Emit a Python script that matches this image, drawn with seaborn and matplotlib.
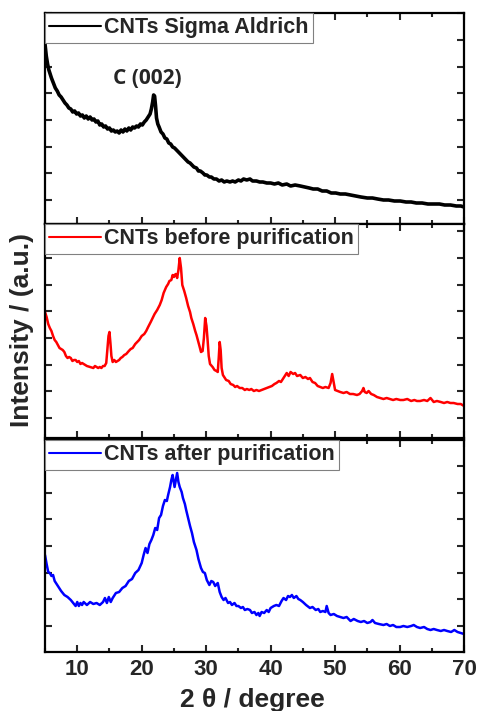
import numpy as np
import pandas as pd
import matplotlib
matplotlib.use("Agg")
import matplotlib.pyplot as plt
from matplotlib.ticker import MultipleLocator
import seaborn as sns

# === DATA (arbitrary intensity units) ===
sigma_theta = [5.0, 5.2, 5.4, 5.6, 5.8, 6.0, 6.3, 6.6, 6.9, 7.2, 7.5, 7.8, 8.1, 8.4, 8.7, 9.0,
               9.3, 9.6, 9.9, 10.2, 10.5, 10.8, 11.1, 11.4, 11.7, 12.0, 12.3, 12.6, 12.9, 13.2,
               13.5, 13.8, 14.1, 14.4, 14.7, 15.0, 15.3, 15.6, 15.9, 16.2, 16.5, 16.8, 17.1,
               17.4, 17.7, 18.0, 18.3, 18.6, 18.9, 19.2, 19.5, 19.8, 20.1, 20.4, 20.7, 21.0,
               21.3, 21.5, 21.7, 21.85, 22.0, 22.15, 22.3, 22.5, 22.7, 23.0, 23.3, 23.6, 23.9,
               24.2, 24.5, 24.8, 25.1, 25.4, 25.7, 26.0, 26.3, 26.6, 26.9, 27.2, 27.5, 27.8,
               28.1, 28.5, 28.8, 29.1, 29.5, 29.8, 30.1, 30.5, 30.8, 31.2, 31.6, 32.0, 32.4,
               32.8, 33.2, 33.7, 34.1, 34.5, 35.0, 35.4, 35.8, 36.3, 36.8, 37.2, 37.8, 38.3,
               38.8, 39.4, 40.0, 40.6, 41.2, 41.8, 42.5, 43.1, 43.8, 44.6, 45.3, 46.0, 46.6,
               47.3, 48.0, 48.7, 49.4, 50.1, 50.8, 51.6, 52.4, 53.2, 54.0, 55.0, 55.8, 56.6,
               57.5, 58.3, 59.2, 60.1, 61.0, 61.8, 62.6, 63.5, 64.4, 65.3, 66.2, 67.0, 67.9,
               68.8, 69.5, 70.0]
sigma_int = [180, 168, 160, 154, 150, 146, 141, 136, 133, 129, 127, 124, 121, 119, 116, 115,
             112, 113, 110, 111, 108, 109, 106, 108, 105, 107, 104, 105, 102, 103,
             99, 100, 97, 98, 95, 96, 93, 94, 92, 93, 91, 94, 92,
             95, 93, 96, 94, 97, 96, 98, 97, 100, 99, 102, 104, 107,
             110, 115, 122, 129, 128, 118, 106, 100, 97, 92, 90, 86, 85,
             81, 80, 77, 76, 74, 72, 70, 68, 66, 64, 62, 61, 59,
             57, 56, 53, 53, 51, 49, 49, 47, 47, 45, 45, 43, 44,
             42, 43, 42, 43, 42, 44, 43, 45, 44, 45, 43, 43, 42,
             42, 41, 41, 40, 41, 39, 40, 38, 39, 38, 37, 36, 35,
             35, 33, 33, 31, 31, 30, 30, 29, 28, 27, 26, 26, 25,
             24, 24, 23, 23, 22, 22, 21, 21, 20, 20, 20, 19, 19,
             18, 18, 17]

before_theta = [5.0, 5.25, 5.5, 5.75, 6.0, 6.25, 6.5, 6.75, 7.0, 7.25, 7.5, 7.75, 8.0, 8.25,
                8.5, 8.75, 9.0, 9.25, 9.5, 9.75, 10.0, 10.25, 10.5, 10.75, 11.0, 11.5, 12.0,
                12.5, 12.75, 13.0, 13.25, 13.5, 13.75, 14.0, 14.25, 14.5, 14.7, 14.85, 15.0,
                15.15, 15.3, 15.5, 15.75, 16.0, 16.25, 16.5, 16.75, 17.0, 17.3, 17.6, 18.0,
                18.3, 18.6, 19.0, 19.3, 19.6, 20.0, 20.4, 20.7, 21.0, 21.4, 21.7, 22.0, 22.4,
                22.8, 23.1, 23.4, 23.8, 24.1, 24.3, 24.6, 24.8, 25.0, 25.1, 25.3, 25.5, 25.7,
                25.9, 26.1, 26.3, 26.6, 26.9, 27.2, 27.5, 27.7, 28.0, 28.3, 28.5, 28.8, 29.0,
                29.2, 29.45, 29.65, 29.85, 30.05, 30.2, 30.4, 30.6, 31.0, 31.3, 31.6, 31.8,
                31.95, 32.1, 32.25, 32.4, 32.6, 32.9, 33.1, 33.5, 33.8, 34.2, 34.5, 34.8, 35.2,
                35.6, 36.0, 36.3, 36.7, 37.0, 37.4, 37.8, 38.2, 38.6, 39.0, 39.4, 39.8, 40.2,
                40.6, 40.9, 41.3, 41.6, 42.0, 42.3, 42.5, 42.8, 43.1, 43.5, 43.8, 44.1, 44.6,
                45.0, 45.4, 45.8, 46.1, 46.5, 46.9, 47.3, 47.7, 48.1, 48.5, 49.0, 49.3, 49.55,
                49.8, 50.0, 50.4, 50.8, 51.3, 51.8, 52.3, 52.8, 53.4, 53.8, 54.2, 54.4, 54.6,
                54.9, 55.2, 55.6, 56.0, 56.5, 57.0, 57.5, 58.0, 58.5, 59.0, 59.5, 60.1, 60.6,
                61.2, 61.8, 62.3, 62.7, 63.2, 63.8, 64.3, 64.8, 65.3, 65.8, 66.4, 66.9, 67.4,
                67.9, 68.4, 69.0, 69.5, 70.0]
before_int = [126, 121, 114, 110, 107, 102, 98, 96, 93, 90, 89, 88, 86, 82,
              80, 81, 80, 77, 78, 78, 76, 77, 74, 75, 74, 72, 71,
              70, 72, 71, 70, 71, 70, 72, 72, 75, 90, 102, 106,
              95, 82, 76, 78, 76, 77, 78, 80, 81, 83, 84, 87,
              89, 90, 94, 96, 98, 102, 104, 107, 111, 116, 120, 124, 128,
              133, 138, 145, 151, 154, 157, 158, 163, 161, 163, 164, 160, 168,
              180, 170, 153, 147, 140, 132, 126, 120, 114, 107, 103, 96, 91,
              86, 87, 100, 120, 112, 100, 82, 74, 71, 68, 67, 66,
              80, 96, 88, 70, 63, 60, 58, 57, 54, 53, 51, 52, 50,
              50, 48, 49, 48, 49, 47, 48, 47, 48, 49, 50, 51, 52,
              54, 55, 57, 56, 60, 63, 65, 62, 66, 64, 65, 62, 63,
              60, 61, 59, 60, 56, 55, 52, 51, 50, 51, 50, 55, 64,
              55, 48, 47, 46, 45, 46, 44, 44, 43, 44, 47, 50, 46,
              45, 47, 44, 43, 41, 40, 39, 40, 39, 38, 39, 38, 38,
              39, 37, 38, 37, 37, 38, 37, 40, 36, 37, 36, 35, 36,
              35, 35, 34, 34, 32]

after_theta = [5.0, 5.25, 5.5, 5.75, 6.0, 6.25, 6.5, 7.0, 7.5, 8.0, 8.5, 9.0, 9.5, 9.75, 10.0,
               10.25, 10.5, 10.75, 11.0, 11.5, 12.0, 12.5, 13.0, 13.5, 14.0, 14.3, 14.6, 14.9,
               15.2, 15.5, 16.0, 16.5, 17.0, 17.5, 18.0, 18.5, 19.0, 19.5, 20.0, 20.3, 20.6,
               20.9, 21.2, 21.5, 21.8, 22.1, 22.4, 22.7, 23.0, 23.3, 23.6, 23.9, 24.1, 24.4,
               24.6, 24.8, 25.1, 25.3, 25.5, 25.7, 25.9, 26.2, 26.4, 26.7, 26.9, 27.2, 27.5,
               27.8, 28.1, 28.5, 28.8, 29.2, 29.5, 29.8, 30.1, 30.5, 30.8, 31.1, 31.4, 31.8,
               32.1, 32.4, 32.7, 33.0, 33.4, 33.7, 34.0, 34.4, 34.7, 35.0, 35.4, 35.7, 36.0,
               36.4, 36.8, 37.1, 37.5, 37.8, 38.1, 38.3, 38.6, 39.0, 39.4, 39.7, 40.0, 40.5,
               40.9, 41.3, 41.7, 42.0, 42.4, 42.7, 43.0, 43.3, 43.6, 44.0, 44.3, 44.6, 45.0,
               45.5, 46.1, 46.5, 47.0, 47.4, 47.7, 48.1, 48.5, 48.7, 49.0, 49.3, 49.8, 50.3,
               50.8, 51.3, 51.8, 52.4, 52.9, 53.5, 54.0, 54.5, 55.0, 55.5, 55.8, 56.2, 56.8,
               57.5, 58.0, 58.5, 59.0, 59.5, 60.1, 60.6, 61.2, 61.8, 62.2, 62.7, 63.2, 63.8,
               64.3, 64.8, 65.3, 65.8, 66.4, 66.9, 67.4, 68.0, 68.5, 69.0, 69.5, 70.0]
after_int = [97, 88, 80, 79, 76, 77, 71, 66, 61, 57, 55, 52, 48, 46, 50,
             46, 49, 47, 50, 47, 50, 48, 49, 47, 50, 54, 49, 55,
             50, 54, 59, 60, 64, 66, 71, 73, 79, 82, 89, 97, 104,
             99, 108, 112, 117, 124, 122, 134, 137, 146, 152, 151, 157, 165,
             172, 177, 165, 172, 179, 170, 165, 160, 154, 148, 142, 134, 126,
             119, 110, 102, 93, 84, 80, 79, 72, 67, 71, 70, 66, 69,
             60, 55, 52, 54, 49, 50, 47, 49, 46, 46, 44, 45, 42,
             43, 42, 39, 40, 37, 39, 36, 40, 39, 42, 40, 44, 46,
             47, 46, 51, 54, 52, 56, 55, 57, 54, 56, 53, 52, 50,
             47, 44, 45, 42, 43, 40, 41, 40, 46, 39, 37, 38, 36,
             35, 34, 35, 31, 33, 31, 30, 31, 29, 30, 32, 29, 28,
             27, 28, 26, 27, 25, 25, 26, 25, 26, 27, 25, 24, 25,
             23, 22, 23, 22, 21, 22, 21, 20, 22, 20, 19, 18]

labels = ["CNTs Sigma Aldrich", "CNTs before purification", "CNTs after purification"]
colors = ["black", "red", "blue"]

# === STYLE ===
sns.set_style("ticks")
plt.rcParams['font.family'] = ['Liberation Sans', 'DejaVu Sans']
plt.rcParams['font.weight'] = 'bold'

fig = plt.figure(figsize=(4.78, 7.11), dpi=100)
W, H = 478, 711
left, right = 45, 464
# panel pixel extents (top, bottom)
panels = [(13, 224), (224, 438), (440, 652)]
ytick_start = [24, 20, 26]
ylims = [(0, 211), (0, 214), (0, 212)]

series = [(sigma_theta, sigma_int), (before_theta, before_int), (after_theta, after_int)]
widths = [2.6, 1.8, 1.8]

axes = []
for i, ((top, bot), (xs, ys)) in enumerate(zip(panels, series)):
    ax = fig.add_axes([left / W, 1 - bot / H, (right - left) / W, (bot - top) / H])
    df = pd.DataFrame({"theta": xs, "intensity": ys})
    sns.lineplot(data=df, x="theta", y="intensity", ax=ax, color=colors[i],
                 lw=widths[i], label=labels[i], sort=False, estimator=None)
    ax.set_xlim(5, 70)
    ax.set_ylim(*ylims[i])
    ax.xaxis.set_major_locator(MultipleLocator(10))
    ax.xaxis.set_minor_locator(MultipleLocator(5))
    ax.set_yticks(np.arange(ytick_start[i], ylims[i][1], 26.7))
    ax.set_yticklabels([])
    ax.tick_params(which='both', direction='in', top=True, right=True, width=1.5)
    ax.tick_params(which='major', length=5)
    ax.tick_params(which='minor', length=3)
    for sp in ax.spines.values():
        sp.set_linewidth(1.6)
        sp.set_color('black')
    ax.set_xlabel("")
    ax.set_ylabel("")
    if i < 2:
        ax.set_xticklabels([])
    else:
        ax.tick_params(axis='x', labelsize=16, pad=5)
        for t in ax.get_xticklabels():
            t.set_fontweight('bold')
    leg = ax.legend(loc='upper left', borderaxespad=0, fancybox=False, edgecolor='gray',
                    framealpha=1, handlelength=2.4, handletextpad=0.15, borderpad=0.2,
                    prop={'size': 15.5, 'weight': 'bold'})
    leg.get_frame().set_linewidth(0.8)
    for h in leg.legend_handles:
        h.set_linewidth(1.5)
    axes.append(ax)

axes[0].text(20.9, 145, "C (002)", ha='center', va='center', fontsize=15,
             family=['Open Sans', 'DejaVu Sans'], fontweight='bold')

fig.text(22 / W, 1 - 330 / H, "Intensity / (a.u.)", rotation=90, ha='center', va='center',
         fontsize=19, fontweight='bold')
fig.text(252 / W, 1 - 688 / H, "2 θ / degree", ha='center', va='top',
         fontsize=19, fontweight='bold')

fig.savefig("out.png", dpi=100)
